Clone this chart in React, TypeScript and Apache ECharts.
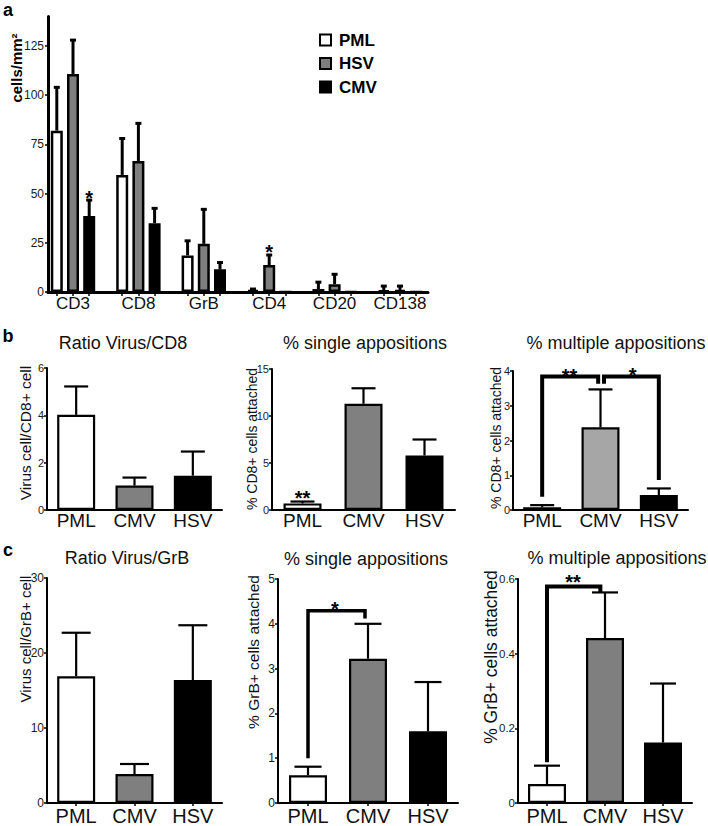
import React, { useEffect, useRef } from 'react';
import * as echarts from 'echarts';

const FONT = '"Liberation Sans", Arial, Helvetica, sans-serif';

// ---------- Panel a ----------
const markersA = ['CD3', 'CD8', 'GrB', 'CD4', 'CD20', 'CD138'];
const groupsA = ['PML', 'HSV', 'CMV'];
const pmlA = [82, 59.5, 18.6, 1, 1.5, 0.8];
const pmlErrA = [104, 78, 26, 1.5, 5, 3];
const hsvA = [110.8, 66.6, 24.5, 13.7, 4, 1];
const hsvErrA = [128, 85.7, 42, 18.8, 9, 3];
const cmvA = [38.6, 35, 11.5, 0, 0, 0];
const cmvErrA = [46.7, 42.5, 15, 0, 0, 0];
const yTicksA = [0, 25, 50, 75, 100, 125];
const starGroupA = [2, 1];
const starCatA = [0, 3];
const starYA = [50, 22.5];

// ---------- Panels b and c ----------
const groupsBC = ['PML', 'CMV', 'HSV'];

const b1Means = [4.02, 1.03, 1.45];
const b1Errs = [5.22, 1.37, 2.47];
const b1Ticks = [0, 2, 4, 6];

const b2Means = [0.7, 11.3, 5.8];
const b2Errs = [0.9, 12.95, 7.5];
const b2Ticks = [0, 5, 10, 15];
const b2StarX = [0];
const b2StarY = [1.75];
const b2StarText = ['**'];

const b3Means = [0.08, 2.38, 0.43];
const b3Errs = [0.14, 3.47, 0.62];
const b3Ticks = [0, 1, 2, 3, 4];
const b3BracketL = [[0, 0.38], [0, 3.84], [0.96, 3.84], [0.96, 3.63]];
const b3BracketR = [[1.06, 3.63], [1.06, 3.84], [2, 3.84], [2, 0.86]];
const b3StarX = [0.47, 1.55];
const b3StarY = [3.99, 4.0];
const b3StarText = ['**', '*'];

const c1Means = [16.9, 3.86, 16.4];
const c1Errs = [22.7, 5.2, 23.7];
const c1Ticks = [0, 10, 20, 30];

const c2Means = [0.62, 3.22, 1.6];
const c2Errs = [0.81, 4.0, 2.7];
const c2Ticks = [0, 1, 2, 3, 4, 5];
const c2Bracket = [[0, 1.0], [0, 4.29], [0.95, 4.29], [0.95, 4.12]];
const c2StarX = [0.45];
const c2StarY = [4.42];
const c2StarText = ['*'];

const c3Means = [0.051, 0.442, 0.162];
const c3Errs = [0.1, 0.564, 0.32];
const c3Ticks = [0, 0.2, 0.4, 0.6];
const c3Bracket = [[0, 0.109], [0, 0.58], [0.92, 0.58], [0.92, 0.565]];
const c3StarX = [0.45];
const c3StarY = [0.604];
const c3StarText = ['**'];

const COL_A = ['#ffffff', '#7f7f7f', '#000000'];
const COL_B = ['#ffffff', '#808080', '#000000'];
const COL_B3 = ['#ffffff', '#a6a6a6', '#000000'];
const COL_C = ['#ffffff', '#7f7f7f', '#000000'];

function errorSeries(xAxisIndex: number, yAxisIndex: number, xs: number[], means: number[], errs: number[], capW: number, lw: number, offsetPx = 0) {
  return {
    type: 'custom',
    xAxisIndex,
    yAxisIndex,
    silent: true,
    z: 5,
    clip: false,
    encode: { x: 0, y: 1 },
    data: means.map((m, i) => [xs[i], m, errs[i]]),
    renderItem: (params: any, api: any) => {
      const x = api.value(0);
      const m = api.value(1);
      const e = api.value(2);
      if (!(e > m)) return null;
      const p0 = api.coord([x, m]);
      const p1 = api.coord([x, e]);
      const cx = p0[0] + offsetPx;
      const st = { stroke: '#000', lineWidth: lw };
      return {
        type: 'group',
        children: [
          { type: 'line', shape: { x1: cx, y1: p0[1], x2: cx, y2: p1[1] }, style: st },
          { type: 'line', shape: { x1: cx - capW / 2, y1: p1[1], x2: cx + capW / 2, y2: p1[1] }, style: st },
        ],
      };
    },
  };
}

function starSeries(xAxisIndex: number, yAxisIndex: number, xs: number[], ys: number[], texts: string[], fontSize: number) {
  return {
    type: 'custom',
    xAxisIndex,
    yAxisIndex,
    silent: true,
    z: 6,
    clip: false,
    encode: { x: 0, y: 1 },
    data: xs.map((x, i) => [x, ys[i]]),
    renderItem: (params: any, api: any) => {
      const p = api.coord([api.value(0), api.value(1)]);
      return {
        type: 'text',
        x: p[0],
        y: p[1] + fontSize * 0.22,
        style: {
          text: texts[params.dataIndex],
          fontSize,
          fontWeight: 'bold',
          fontFamily: FONT,
          fill: '#000',
          align: 'center',
          verticalAlign: 'middle',
        },
      };
    },
  };
}

function bracketSeries(xAxisIndex: number, yAxisIndex: number, pts: number[][], lw: number) {
  return {
    type: 'line',
    xAxisIndex,
    yAxisIndex,
    silent: true,
    z: 6,
    clip: false,
    symbol: 'none',
    data: pts,
    lineStyle: { color: '#000', width: lw, cap: 'butt', join: 'miter' },
  };
}

export default function App() {
  const ref = useRef<HTMLDivElement>(null);

  useEffect(() => {
    if (!ref.current) return;
    const chart = echarts.init(ref.current, null, { renderer: 'svg' });

    const grids: any[] = [];
    const xAxes: any[] = [];
    const yAxes: any[] = [];
    const series: any[] = [];
    const graphics: any[] = [];

    // ---- Panel a ----
    const barStep = 12 * 1.35; // px
    const bandA = 65.4;
    const stepVal = barStep / bandA;
    grids.push({ left: 48, top: 16.5, width: 380, height: 275.5, outerBoundsMode: 'none' });
    const aTicks: number[] = [];
    markersA.forEach((_, i) => { aTicks.push(i - stepVal, i, i + stepVal); });
    xAxes.push({
      type: 'value',
      gridIndex: 0,
      min: -25 / bandA,
      max: 355 / bandA,
      splitLine: { show: false },
      axisLine: { show: true, onZero: false, lineStyle: { color: '#000', width: 3 } },
      axisTick: { show: true, length: 4, customValues: aTicks, lineStyle: { color: '#000', width: 1.5 } },
      axisLabel: {
        customValues: markersA.map((_, i) => i),
        formatter: (v: number) => markersA[Math.round(v)] ?? '',
        fontSize: 17,
        color: '#111',
        fontFamily: FONT,
        margin: 3,
      },
    });
    yAxes.push({
      type: 'value',
      gridIndex: 0,
      min: 0,
      max: 140,
      splitLine: { show: false },
      axisLine: { show: true, onZero: false, lineStyle: { color: '#000', width: 3 } },
      axisTick: { show: true, length: 3, customValues: yTicksA, lineStyle: { color: '#000', width: 1.5 } },
      axisLabel: { customValues: yTicksA, fontSize: 12, color: '#1a1a1a', fontFamily: FONT, margin: 4 },
    });
    const aVals = [pmlA, hsvA, cmvA];
    const aErrs = [pmlErrA, hsvErrA, cmvErrA];
    groupsA.forEach((g, k) => {
      series.push({
        type: 'bar',
        name: g,
        xAxisIndex: 0,
        yAxisIndex: 0,
        barWidth: 12,
        barGap: '35%',
        data: aVals[k].map((v, i) => [i, v]),
        itemStyle: { color: COL_A[k], borderColor: '#000', borderWidth: 2.5 },
        silent: true,
      });
    });
    groupsA.forEach((g, k) => {
      series.push(errorSeries(0, 0, markersA.map((_, i) => i), aVals[k], aErrs[k], 6, 3, (k - 1) * barStep));
    });
    series.push(
      starSeries(0, 0, starCatA.map((c, i) => c + (starGroupA[i] - 1) * stepVal), starYA, starYA.map(() => '*'), 20)
    );

    // ---- Panels b, c ----
    const panels = [
      { means: b1Means, errs: b1Errs, ticks: b1Ticks, max: 6, colors: COL_B, left: 47, width: 175, top: 368, height: 142, cap: 24, labelSize: 19, labelMargin: 1, tickSize: 11, xTick: false,
        title: 'Ratio Virus/CD8', tx: 123, ty: 343, yName: 'Virus cell/CD8+ cell', nx: 25, ny: 433, nSize: 15.5 },
      { means: b2Means, errs: b2Errs, ticks: b2Ticks, max: 15, colors: COL_B, left: 272, width: 183, top: 369, height: 141, cap: 24, labelSize: 19, labelMargin: 1, tickSize: 11, xTick: false,
        title: '% single appositions', tx: 365, ty: 343, yName: '% CD8+ cells attached', nx: 252, ny: 439, nSize: 14,
        stars: [b2StarX, b2StarY, b2StarText] },
      { means: b3Means, errs: b3Errs, ticks: b3Ticks, max: 4, colors: COL_B3, left: 513, width: 175, top: 371, height: 139, cap: 24, labelSize: 19, labelMargin: 1, tickSize: 11, xTick: false,
        title: '% multiple appositions', tx: 616, ty: 343, yName: '% CD8+ cells attached', nx: 496, ny: 438, nSize: 14,
        brackets: [b3BracketL, b3BracketR], blw: 4, stars: [b3StarX, b3StarY, b3StarText] },
      { means: c1Means, errs: c1Errs, ticks: c1Ticks, max: 30, colors: COL_C, left: 47, width: 175, top: 578, height: 225, cap: 29, labelSize: 20, labelMargin: 3, tickSize: 12, xTick: true,
        title: 'Ratio Virus/GrB', tx: 127, ty: 558, yName: 'Virus cell/GrB+ cell', nx: 25, ny: 639, nSize: 15 },
      { means: c2Means, errs: c2Errs, ticks: c2Ticks, max: 5, colors: COL_C, left: 278, width: 180, top: 579, height: 224, cap: 27, labelSize: 20, labelMargin: 3, tickSize: 12, xTick: true,
        title: '% single appositions', tx: 366, ty: 559, yName: '% GrB+ cells attached', nx: 253, ny: 652, nSize: 15.5,
        brackets: [c2Bracket], blw: 3.5, stars: [c2StarX, c2StarY, c2StarText] },
      { means: c3Means, errs: c3Errs, ticks: c3Ticks, max: 0.6, colors: COL_C, left: 518, width: 174, top: 579, height: 224, cap: 26, labelSize: 20, labelMargin: 3, tickSize: 11.5, xTick: true,
        title: '% multiple appositions', tx: 617, ty: 558, yName: '% GrB+ cells attached', nx: 491, ny: 657, nSize: 17.5,
        brackets: [c3Bracket], blw: 4, stars: [c3StarX, c3StarY, c3StarText] },
    ];

    panels.forEach((p: any, pi) => {
      const gi = pi + 1;
      grids.push({ left: p.left, top: p.top, width: p.width, height: p.height, outerBoundsMode: 'none' });
      const catIdx = xAxes.length;
      xAxes.push({
        type: 'category',
        gridIndex: gi,
        data: groupsBC,
        axisLine: { show: true, onZero: false, lineStyle: { color: '#000', width: 2 } },
        axisTick: { show: p.xTick, alignWithLabel: true, length: 3, lineStyle: { color: '#000', width: 1.5 } },
        axisLabel: { fontSize: p.labelSize, color: '#111', fontFamily: FONT, margin: p.labelMargin },
      });
      const ovIdx = xAxes.length;
      xAxes.push({ type: 'value', gridIndex: gi, min: -0.5, max: 2.5, show: false, splitLine: { show: false } });
      const yIdx = yAxes.length;
      yAxes.push({
        type: 'value',
        gridIndex: gi,
        min: 0,
        max: p.max,
        splitLine: { show: false },
        axisLine: { show: true, onZero: false, lineStyle: { color: '#000', width: 2 } },
        axisTick: { show: true, length: 3, customValues: p.ticks, lineStyle: { color: '#000', width: 1.5 } },
        axisLabel: { customValues: p.ticks, fontSize: p.tickSize, color: '#1a1a1a', fontFamily: FONT, margin: 3 },
      });
      series.push({
        type: 'bar',
        name: 'panel' + gi,
        xAxisIndex: catIdx,
        yAxisIndex: yIdx,
        barWidth: 38,
        silent: true,
        data: p.means.map((v: number, i: number) => ({
          value: v,
          itemStyle: { color: p.colors[i], borderColor: '#000', borderWidth: 2.2 },
        })),
      });
      series.push(errorSeries(ovIdx, yIdx, [0, 1, 2], p.means, p.errs, p.cap, 2.2));
      (p.brackets || []).forEach((b: number[][]) => series.push(bracketSeries(ovIdx, yIdx, b, p.blw)));
      if (p.stars) series.push(starSeries(ovIdx, yIdx, p.stars[0], p.stars[1], p.stars[2], 20));

      graphics.push({
        type: 'text',
        x: p.tx,
        y: p.ty,
        style: { text: p.title, fontSize: 18, fontFamily: FONT, fill: '#111', align: 'center', verticalAlign: 'middle' },
      });
      graphics.push({
        type: 'text',
        x: p.nx,
        y: p.ny,
        rotation: Math.PI / 2,
        style: { text: p.yName, fontSize: p.nSize, fontFamily: FONT, fill: '#111', align: 'center', verticalAlign: 'middle' },
      });
    });

    // Panel a y name and panel letters
    graphics.push({
      type: 'text',
      x: 16,
      y: 68,
      rotation: Math.PI / 2,
      style: { text: 'cells/mm²', fontSize: 15, fontWeight: 'bold', fontFamily: FONT, fill: '#000', align: 'center', verticalAlign: 'middle' },
    });
    [['a', 8, 10], ['b', 8, 336], ['c', 8, 550]].forEach(([t, x, y]) => {
      graphics.push({
        type: 'text',
        x,
        y,
        style: { text: t, fontSize: 18, fontWeight: 'bold', fontFamily: FONT, fill: '#000', align: 'center', verticalAlign: 'middle' },
      });
    });

    chart.setOption({
      animation: false,
      textStyle: { fontFamily: FONT },
      grid: grids,
      xAxis: xAxes,
      yAxis: yAxes,
      legend: {
        show: true,
        left: 314,
        top: 25,
        orient: 'vertical',
        icon: 'rect',
        itemWidth: 11,
        itemHeight: 11,
        itemGap: 3.5,
        selectedMode: false,
        data: groupsA.map((n) => ({ name: n, itemStyle: { borderColor: '#000', borderWidth: 2 } })),
        textStyle: { fontSize: 17, fontWeight: 'bold', fontFamily: FONT, color: '#000', lineHeight: 20, padding: [0, 0, 0, 3] },
      },
      series,
      graphic: graphics,
    });

    return () => chart.dispose();
  }, []);

  return (
    <div
      ref={ref}
      style={{ position: 'absolute', left: 0, top: 0, width: 708, height: 826, background: '#fff' }}
    />
  );
}
